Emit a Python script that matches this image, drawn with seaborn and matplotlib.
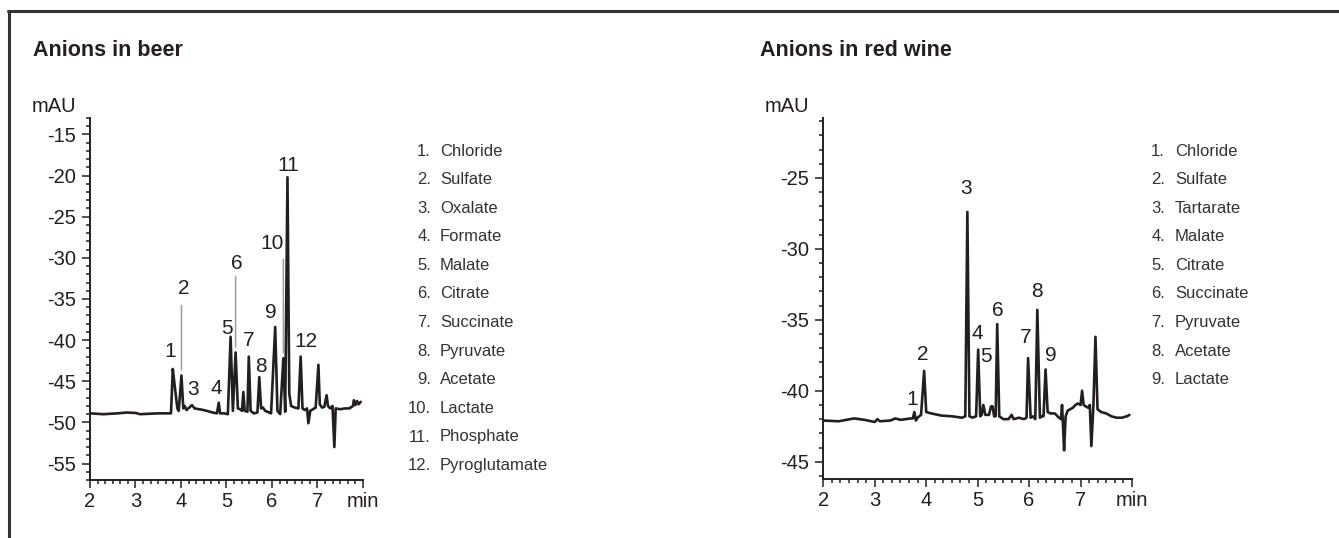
import numpy as np
import matplotlib
matplotlib.use("Agg")
import matplotlib.pyplot as plt
from matplotlib.lines import Line2D
from matplotlib.ticker import MultipleLocator, FixedLocator, FixedFormatter, FormatStrFormatter
import seaborn as sns

# beer chromatogram (min, mAU)
beer_time = [2.0, 2.3, 2.6, 2.8, 3.0, 3.1, 3.3, 3.5, 3.7, 3.78,
             3.82, 3.86, 3.92, 3.95, 4.01, 4.05, 4.08, 4.12, 4.2, 4.24, 4.3, 4.5, 4.7,
             4.79, 4.83, 4.86, 4.95, 5.03, 5.09, 5.14, 5.20, 5.25, 5.30, 5.34, 5.37, 5.40,
             5.46, 5.49, 5.53, 5.6, 5.68, 5.72, 5.76, 5.8, 5.85, 5.9, 5.98, 6.07, 6.12,
             6.18, 6.25, 6.29, 6.34, 6.38, 6.42, 6.5, 6.58, 6.63, 6.67, 6.72, 6.77, 6.80,
             6.84, 6.9, 6.96, 7.02, 7.05, 7.1, 7.15, 7.2, 7.23, 7.28, 7.33, 7.37, 7.40,
             7.5, 7.6, 7.7, 7.78, 7.8, 7.83, 7.87, 7.9, 7.95]
beer_mau = [-48.9, -49.0, -48.9, -48.8, -48.85, -49.0, -48.95, -48.9, -48.9, -48.9,
            -43.5, -45.5, -48.3, -48.6, -44.3, -48.3, -48.0, -48.5, -48.1, -47.9, -48.3, -48.5, -48.8,
            -48.9, -47.6, -48.9, -48.9, -49.0, -39.6, -48.6, -41.5, -48.3, -48.4, -48.6, -46.3, -48.6,
            -48.7, -42.0, -48.6, -48.9, -48.8, -44.5, -48.3, -48.2, -48.6, -48.7, -48.9, -38.4, -48.6,
            -49.0, -42.2, -48.7, -20.2, -46.5, -48.0, -48.2, -48.3, -42.0, -48.3, -48.5, -48.3, -50.1,
            -48.6, -48.4, -48.2, -43.0, -47.8, -48.2, -48.1, -46.7, -48.0, -48.3, -48.0, -53.0, -48.3,
            -48.4, -48.3, -48.3, -48.0, -47.3, -47.9, -47.4, -47.8, -47.5]
beer_peak_times = [3.82, 4.01, 4.24, 4.83, 5.09, 5.20, 5.49, 5.72, 6.07, 6.25, 6.34, 6.63]
beer_names = ["Chloride", "Sulfate", "Oxalate", "Formate", "Malate", "Citrate",
              "Succinate", "Pyruvate", "Acetate", "Lactate", "Phosphate", "Pyroglutamate"]

# red wine chromatogram (min, mAU)
wine_time = [2.0, 2.3, 2.6, 2.8, 3.0, 3.05, 3.1, 3.3, 3.4, 3.5, 3.7, 3.74, 3.77, 3.80,
             3.83, 3.90, 3.96, 4.0, 4.1, 4.3, 4.5, 4.7, 4.76, 4.80, 4.84, 4.9, 4.97, 5.01,
             5.05, 5.08, 5.11, 5.15, 5.22, 5.26, 5.29, 5.32, 5.35, 5.38, 5.42, 5.5, 5.6,
             5.66, 5.7, 5.8, 5.9, 5.95, 5.98, 6.03, 6.08, 6.12, 6.16, 6.21, 6.25, 6.28,
             6.32, 6.36, 6.42, 6.5, 6.58, 6.62, 6.64, 6.66, 6.68, 6.71, 6.75, 6.8, 6.85,
             6.9, 6.95, 7.0, 7.03, 7.06, 7.1, 7.15, 7.18, 7.21, 7.25, 7.29, 7.33, 7.4,
             7.5, 7.6, 7.7, 7.8, 7.9, 7.95]
wine_mau = [-42.1, -42.15, -41.95, -42.05, -42.2, -42.0, -42.15, -42.1, -41.95, -42.05, -41.95, -41.95, -41.5, -42.1,
            -41.9, -41.7, -38.6, -41.5, -41.6, -41.75, -41.8, -41.9, -41.8, -27.4, -41.8, -41.9, -41.8, -37.1,
            -41.8, -41.7, -41.0, -41.7, -41.7, -41.1, -41.1, -41.8, -41.8, -35.3, -41.8, -42.0, -42.0,
            -41.7, -42.0, -41.9, -42.0, -41.9, -37.7, -41.9, -41.8, -42.0, -34.3, -41.9, -41.8, -41.8,
            -38.5, -41.5, -41.6, -41.6, -41.9, -42.0, -41.0, -42.5, -44.2, -41.8, -41.4, -41.3, -41.2,
            -41.0, -40.9, -41.0, -40.0, -41.0, -41.1, -41.2, -41.0, -43.9, -41.0, -36.2, -41.3, -41.5,
            -41.6, -41.8, -41.9, -41.9, -41.8, -41.7]
wine_peak_times = [3.77, 3.96, 4.80, 5.01, 5.11, 5.38, 5.98, 6.16, 6.32]
wine_names = ["Chloride", "Sulfate", "Tartarate", "Malate", "Citrate",
              "Succinate", "Pyruvate", "Acetate", "Lactate"]

W, H = 1339, 538
INK = "#231f20"
GREY = "#9d9d9d"

sns.set_style("white")
plt.rcParams["font.family"] = ["Liberation Sans", "DejaVu Sans"]
plt.rcParams["axes.unicode_minus"] = False

fig = plt.figure(figsize=(W / 100, H / 100), dpi=100)


def px(x, y):
    return x / W, 1 - y / H


def draw_panel(rect, t, v, ylim, peaks, offsets, leaders):
    ax = fig.add_axes(rect)
    sns.lineplot(x=t, y=v, ax=ax, color=INK, lw=1.9, estimator=None, sort=False)
    ax.set_xlim(2, 8)
    ax.set_ylim(*ylim)
    ax.set_xlabel("")
    ax.set_ylabel("")
    ax.xaxis.set_major_locator(FixedLocator([2, 3, 4, 5, 6, 7, 8]))
    ax.xaxis.set_major_formatter(FixedFormatter(["2", "3", "4", "5", "6", "7", "min"]))
    ax.xaxis.set_minor_locator(MultipleLocator(1 / 6))
    ax.yaxis.set_major_locator(MultipleLocator(5))
    ax.yaxis.set_minor_locator(MultipleLocator(1))
    ax.yaxis.set_major_formatter(FormatStrFormatter("%d"))
    for s in ["top", "right"]:
        ax.spines[s].set_visible(False)
    for s in ["left", "bottom"]:
        ax.spines[s].set_linewidth(1.4)
        ax.spines[s].set_color(INK)
    ax.tick_params(which="major", direction="out", length=6, width=1.1, color=INK,
                   labelsize=14.5, labelcolor=INK, left=True, bottom=True)
    ax.tick_params(which="minor", direction="out", length=3.2, width=1.1, color=INK,
                   left=True, bottom=True)
    ax.tick_params(axis="y", pad=4)
    ax.tick_params(axis="x", pad=2.5)
    ax.set_facecolor("none")

    for i, pt in enumerate(peaks):
        pv = np.interp(pt, t, v)
        dx, dy = offsets[i]
        ax.annotate(str(i + 1), xy=(pt, pv), xytext=(dx * 0.72, dy * 0.72),
                    textcoords="offset points", ha="center", va="center",
                    fontsize=15, color=INK)
        if (i + 1) in leaders:
            ax.annotate("", xy=(pt, pv), xytext=(0, leaders[i + 1] * 0.72),
                        textcoords="offset points",
                        arrowprops=dict(arrowstyle="-", color=GREY, lw=1.1,
                                        shrinkA=0, shrinkB=4))
    return ax


# label offsets from each apex, in pixels
beer_offsets = [(-3, 17), (2, 87), (1, 16), (-2, 14), (-4, 8), (1, 89),
                (0, 16), (2, 11), (-4, 14), (-11, 115), (1, 12), (5, 15)]
beer_leaders = {2: 70, 6: 76, 10: 99}
wine_offsets = [(-2, 13), (-1.5, 16), (-1, 23), (-0.5, 16), (3, 48), (1, 14),
                (-2.5, 21), (0, 18), (5, 14)]

draw_panel([90 / W, 1 - 480 / H, 273 / W, 362 / H], beer_time, beer_mau, (-57, -13),
           beer_peak_times, beer_offsets, beer_leaders)
draw_panel([823.3 / W, 1 - 479.3 / H, 308.7 / W, 361 / H], wine_time, wine_mau, (-46.24, -20.8),
           wine_peak_times, wine_offsets, {})

# titles and axis unit
fig.text(*px(33, 56), "Anions in beer", fontsize=15.5, weight="bold", color=INK, va="baseline")
fig.text(*px(760, 56), "Anions in red wine", fontsize=15.5, weight="bold", color=INK, va="baseline")
fig.text(*px(31.5, 111.5), "mAU", fontsize=14.5, color=INK, va="baseline")
fig.text(*px(765, 111.5), "mAU", fontsize=14.5, color=INK, va="baseline")

# peak keys
for names, num_x, name_x in [(beer_names, 431, 440), (wine_names, 1165, 1175)]:
    for i, name in enumerate(names):
        y = 155.5 + i * 28.6
        fig.text(*px(num_x, y), f"{i + 1}.", fontsize=12, color="#333333",
                 ha="right", va="baseline")
        fig.text(*px(name_x, y), name, fontsize=12, color="#333333", va="baseline")

# frame on top and left
fig.add_artist(Line2D([8 / W, 1], [1 - 11 / H, 1 - 11 / H], color="#333333", lw=2.2,
                      transform=fig.transFigure))
fig.add_artist(Line2D([9 / W, 9 / W], [0, 1 - 11 / H], color="#333333", lw=2.2,
                      transform=fig.transFigure))

fig.savefig("out.png", dpi=100, facecolor="white")
